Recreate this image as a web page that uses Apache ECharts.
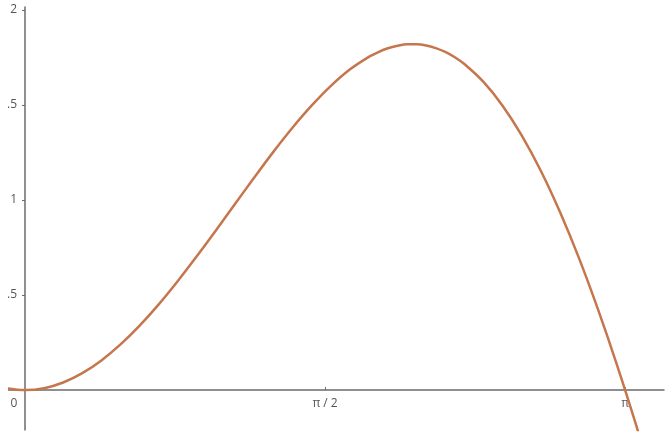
<!DOCTYPE html>
<html>
<head>
<meta charset="utf-8">
<script src="https://cdn.jsdelivr.net/npm/echarts@6/dist/echarts.min.js"></script>
<style>
  html, body { margin: 0; padding: 0; background: #fff; }
  #chart { width: 672px; height: 439px; }
</style>
</head>
<body>
<div id="chart"></div>
<script>
// points (x, y)
const xs = [-0.1, 0, 0.1, 0.2, 0.3, 0.4, 0.5, 0.6, 0.7, 0.8, 0.9, 1.0, 1.1, 1.2, 1.3, 1.4, 1.5, 1.6,
  1.7, 1.8, 1.85, 1.9, 1.95, 2.0, 2.05, 2.1, 2.15, 2.2, 2.25, 2.3, 2.4, 2.5, 2.6, 2.7, 2.8, 2.9,
  3.0, 3.1, 3.2, 3.3];
const ys = [0.010, 0, 0.010, 0.040, 0.089, 0.156, 0.240, 0.339, 0.451, 0.574, 0.705, 0.841, 0.980,
  1.118, 1.253, 1.380, 1.496, 1.599, 1.686, 1.753, 1.778, 1.798, 1.811, 1.819, 1.819, 1.813, 1.799,
  1.779, 1.751, 1.715, 1.621, 1.496, 1.340, 1.154, 0.938, 0.694, 0.423, 0.129, -0.187, -0.521];

const xTicks = [0, Math.PI / 2, Math.PI];
const xTickLabels = ['0', 'π / 2', 'π'];
const yTicks = [0.5, 1, 1.5, 2];
const yTickLabels = ['0.5', '1', '1.5', '2'];

const W = 672, H = 439;
const grid = { left: 8, right: 8, top: 7, bottom: 9 };
const xMin = -0.089, xMax = 3.345;
const yMin = -0.21, yMax = 2.015;

// move the axes so they cross at the origin, labels and ticks too
const gw = W - grid.left - grid.right;
const gh = H - grid.top - grid.bottom;
const xAxisOffset = -(gh * (0 - yMin) / (yMax - yMin));
const yAxisOffset = -(gw * (0 - xMin) / (xMax - xMin));

const chart = echarts.init(document.getElementById('chart'));

const axisColor = '#6b6b6b';
const labelStyle = { color: '#555', fontFamily: 'Open Sans', fontSize: 12 };

chart.setOption({
  animation: false,
  grid: Object.assign({ containLabel: false, outerBoundsMode: 'none' }, grid),
  // the view is cut at the left, y labels get clipped there
  graphic: [{
    type: 'rect',
    left: 0, top: 0, z: 100,
    shape: { width: grid.left, height: H },
    style: { fill: '#fff' }
  }],
  xAxis: {
    type: 'value',
    min: xMin,
    max: xMax,
    offset: xAxisOffset,
    splitLine: { show: false },
    axisLine: { onZero: false, lineStyle: { color: axisColor, width: 1.5 } },
    axisTick: { show: true, customValues: xTicks.slice(1), length: 3, inside: true,
      lineStyle: { color: axisColor } },
    axisLabel: Object.assign({
      customValues: xTicks,
      margin: 8,
      formatter: v => {
        const i = xTicks.findIndex(t => Math.abs(t - v) < 1e-6);
        if (i === 0) return '{z|0}';
        return i >= 0 ? xTickLabels[i] : '';
      },
      rich: { z: Object.assign({ padding: [0, 22, 0, 0] }, labelStyle) }
    }, labelStyle)
  },
  yAxis: {
    type: 'value',
    min: yMin,
    max: yMax,
    offset: yAxisOffset,
    splitLine: { show: false },
    axisLine: { show: true, onZero: false, lineStyle: { color: axisColor, width: 1.5 } },
    axisTick: { show: true, customValues: yTicks, length: 3, lineStyle: { color: axisColor } },
    axisLabel: Object.assign({
      customValues: yTicks,
      margin: 8,
      formatter: v => {
        const i = yTicks.findIndex(t => Math.abs(t - v) < 1e-6);
        return i >= 0 ? yTickLabels[i] : '';
      }
    }, labelStyle)
  },
  series: [{
    type: 'line',
    data: xs.map((x, i) => [x, ys[i]]),
    smooth: 0.3,
    symbol: 'none',
    clip: true,
    lineStyle: { color: '#c5764c', width: 2.5 }
  }]
});
</script>
</body>
</html>
